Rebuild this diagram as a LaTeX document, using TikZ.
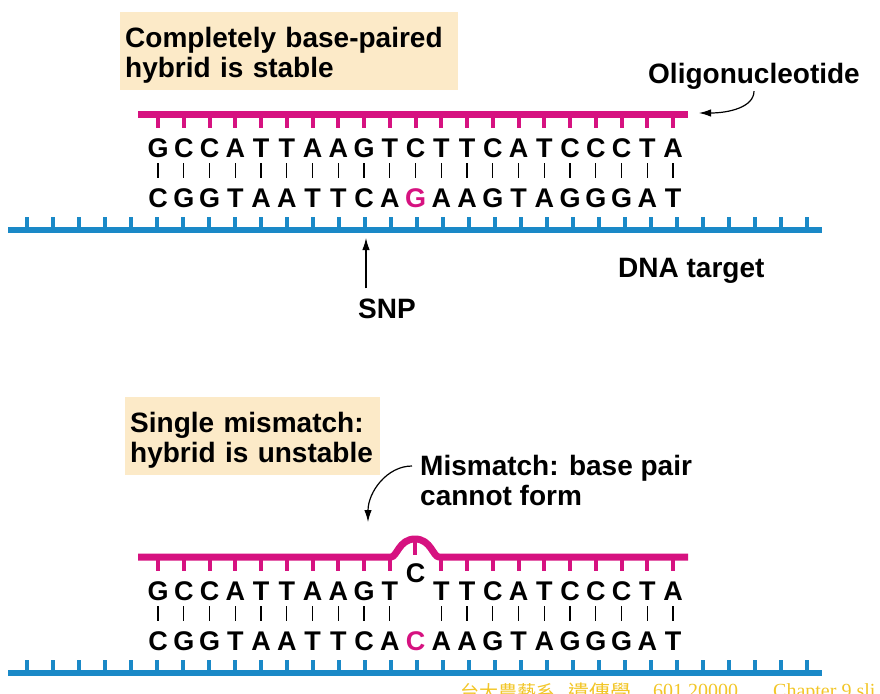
\documentclass[tikz,border=0pt]{standalone}
\usepackage{fontspec}
\setmainfont{Liberation Sans}
\newfontfamily\serifwm{Liberation Serif}
\newfontfamily\cjkwm{Noto Sans CJK TC}
\usetikzlibrary{arrows.meta}
\usetikzlibrary{positioning}
\definecolor{oligocol}{RGB}{214,18,128}
\definecolor{dnacol}{RGB}{26,137,199}
\definecolor{tagbg}{RGB}{252,234,200}
\definecolor{wmgold}{RGB}{242,198,40}
\tikzset{oligo strand/.style={draw=oligocol, line width=7pt, line join=round}}
\tikzset{dna strand/.style={draw=dnacol, line width=6pt}}
\tikzset{oligo tick/.style={draw=oligocol, line width=4pt}}
\tikzset{dna tick/.style={draw=dnacol, line width=3.5pt}}
\tikzset{nuc/.style={font=\fontsize{27}{27}\selectfont\bfseries, inner sep=0pt,
                     text height=19.5pt, text depth=0pt, anchor=base}}
\tikzset{pair/.style={line width=1.3pt, shorten <=6pt, shorten >=9pt}}
\tikzset{lbl/.style={font=\fontsize{28}{30}\selectfont\bfseries, inner sep=0pt, align=left}}
\tikzset{tag/.style={lbl, fill=tagbg, inner xsep=5pt, inner ysep=7pt, anchor=north west}}
\tikzset{pointer/.style={-{Latex[length=12pt,width=7.5pt]}, line width=1.2pt}}
\tikzset{wm/.style={text=wmgold, inner sep=0pt, anchor=base west}}
\newcommand\tagstrut{\rule{0pt}{28pt}}

\begin{document}
\begin{tikzpicture}[x=1pt, y=-1pt]
		\useasboundingbox (0,0) rectangle (880,693);
		
		% perfect hybrid
		\node[tag, text width=328pt] (stable) at (120,12) {\tagstrut Completely base-paired\\hybrid is stable};
		
		\draw[oligo strand] (138,114) -- (688,114);
		\foreach \i in {0,...,20} \draw[oligo tick] ({158+25.75*\i},114) -- ++(0,14);
		\draw[dna strand] (8,230) -- (822,230);
		\foreach \k in {0,...,30} \draw[dna tick] ({27+26*\k},230) -- ++(0,-13);
		
		\foreach \l [count=\i from 0] in {G,C,C,A,T,T,A,A,G,T,C,T,T,C,A,T,C,C,C,T,A}
		\node[nuc] (t\i) at ({158+25.75*\i},157) {\l};
		\foreach \l [count=\i from 0] in {C,G,G,T,A,A,T,T,C,A,{\textcolor{oligocol}{G}},A,A,G,T,A,G,G,G,A,T}
		\node[nuc] (b\i) at ({158+25.75*\i},207) {\l};
		\foreach \i in {0,...,20} \draw[pair] (t\i) -- (b\i);
		
		\node[lbl, anchor=base west] (oligo) at (648,83) {Oligonucleotide};
		\coordinate (oligo-tip) at (699,113);
		\draw[pointer, shorten <=2pt] (oligo.south) .. controls +(0,18) and +(30,0) .. (oligo-tip);
		
		\node[lbl, anchor=base west] (target) at (618,277) {DNA target};
		
		\node[lbl, anchor=base west] (snp) at (358,318) {SNP};
		\coordinate (snp-tip) at (366,238);
		\draw[pointer, shorten <=10pt] (snp.north -| snp-tip) -- (snp-tip);
		
		% hybrid with one mismatch
		\node[tag, text width=245pt] (unstable) at (125,397) {\tagstrut Single mismatch:\\hybrid is unstable};
		
		\draw[oligo strand] (138,557) -- (391,557) .. controls (397,557) and (399,539) .. (415,539)
		.. controls (431,539) and (433,557) .. (439,557) -- (688,557);
		\foreach \i in {0,...,9,11,12,...,20} \draw[oligo tick] ({158+25.75*\i},557) -- ++(0,14);
		\draw[oligo tick] (415,539) -- (415,555);
		\draw[dna strand] (8,673) -- (822,673);
		\foreach \k in {0,...,30} \draw[dna tick] ({27+26*\k},673) -- ++(0,-13);
		
		\foreach \l [count=\i from 0] in {G,C,C,A,T,T,A,A,G,T,C,T,T,C,A,T,C,C,C,T,A}{
			\ifnum\i=10
			\node[nuc] (mt\i) at ({158+25.75*\i},582) {\l};
			\else
			\node[nuc] (mt\i) at ({158+25.75*\i},600) {\l};
			\fi
		}
		\foreach \l [count=\i from 0] in {C,G,G,T,A,A,T,T,C,A,{\textcolor{oligocol}{C}},A,A,G,T,A,G,G,G,A,T}
		\node[nuc] (mb\i) at ({158+25.75*\i},650) {\l};
		\foreach \i in {0,...,9,11,12,...,20} \draw[pair] (mt\i) -- (mb\i);
		
		\node[lbl, anchor=north west] (mism) at (420,455) {Mismatch: base pair\\cannot form};
		\coordinate (mism-tip) at (368,522);
		\draw[pointer] ([shift={(-8pt,-11pt)}]mism.north west) .. controls +(-25,0) and +(0,-30) .. (mism-tip);
		
		% slide footer
		\node[wm, font={\cjkwm\fontsize{19}{19}\selectfont}] (wm1) at (460,699) {台大農藝系};
		\node[wm, font={\cjkwm\fontsize{21}{21}\selectfont}] (wm2) at (568,700) {遺傳學};
		\node[wm, font={\serifwm\fontsize{20}{20}\selectfont}] (wm3) at (653,697) {601 20000};
		\node[wm, font={\serifwm\fontsize{20}{20}\selectfont}] (wm4) at (773,697) {Chapter 9 sli};
		\end{tikzpicture}
\end{document}
